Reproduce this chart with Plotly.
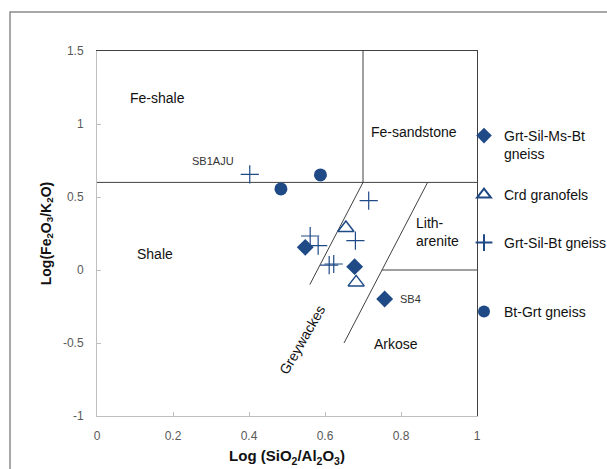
import plotly.graph_objects as go

# ---------------- data ----------------
ms_bt_x = [0.548, 0.678, 0.757]
ms_bt_y = [0.155, 0.023, -0.199]

crd_x = [0.655, 0.682]
crd_y = [0.288, -0.085]

sil_bt_x = [0.402, 0.715, 0.561, 0.680, 0.582, 0.611, 0.623]
sil_bt_y = [0.655, 0.475, 0.233, 0.201, 0.167, 0.034, 0.041]

bt_grt_x = [0.588, 0.484]
bt_grt_y = [0.651, 0.555]

series_names = ["Grt-Sil-Ms-Bt<br>gneiss", "Crd granofels", "Grt-Sil-Bt gneiss", "Bt-Grt gneiss"]

# field boundaries (Herron 1988) as segments
boundary_x = [[0.0, 1.0], [0.7, 0.7], [0.7, 0.56], [0.87, 0.65], [0.75, 1.0]]
boundary_y = [[0.6, 0.6], [0.6, 1.5], [0.6, -0.1], [0.6, -0.5], [0.0, 0.0]]

field_labels = ["Fe-shale", "Fe-sandstone", "Shale", "Lith-<br>arenite", "Arkose"]
field_x = [0.16, 0.833, 0.153, 0.896, 0.788]
field_y = [1.18, 0.945, 0.11, 0.26, -0.51]

sample_labels = ["SB1AJU", "SB4"]
sample_x = [0.306, 0.825]
sample_y = [0.745, -0.199]

x_ticks = [0, 0.2, 0.4, 0.6, 0.8, 1]
x_ticklabels = ["0", "0.2", "0.4", "0.6", "0.8", "1"]
y_ticks = [-1, -0.5, 0, 0.5, 1, 1.5]
y_ticklabels = ["-1", "-0.5", "0", "0.5", "1", "1.5"]

# ---------------- figure ----------------
NAVY = "#1F4A86"
FONT = "Liberation Sans"
fig = go.Figure()

for bx, by in zip(boundary_x, boundary_y):
    fig.add_trace(go.Scatter(x=bx, y=by, mode="lines", showlegend=False,
                             hoverinfo="skip", line=dict(color="#404040", width=1)))

fig.add_trace(go.Scatter(x=ms_bt_x, y=ms_bt_y, mode="markers", name=series_names[0],
                         marker=dict(symbol="diamond", size=13, color=NAVY), legend="legend"))
fig.add_trace(go.Scatter(x=crd_x, y=crd_y, mode="markers", name=series_names[1],
                         marker=dict(symbol="triangle-up-open", size=14, color=NAVY,
                                     line=dict(width=1.5, color=NAVY)), legend="legend2"))
fig.add_trace(go.Scatter(x=sil_bt_x, y=sil_bt_y, mode="markers", name=series_names[2],
                         marker=dict(symbol="cross-thin-open", size=13, color=NAVY,
                                     line=dict(width=1.2, color=NAVY)), legend="legend3"))
fig.add_trace(go.Scatter(x=bt_grt_x, y=bt_grt_y, mode="markers", name=series_names[3],
                         marker=dict(symbol="circle", size=13, color=NAVY), legend="legend4"))

# frame on top and right (dark), via overlay axes
fig.add_trace(go.Scatter(x=[None], y=[None], xaxis="x2", yaxis="y2", showlegend=False))

for t, x, y in zip(field_labels, field_x, field_y):
    fig.add_annotation(x=x, y=y, text=t, showarrow=False, align="left",
                       font=dict(family=FONT, size=14, color="#111111"))
for t, x, y in zip(sample_labels, sample_x, sample_y):
    fig.add_annotation(x=x, y=y, text=t, showarrow=False,
                       font=dict(family=FONT, size=11, color="#333333"))
fig.add_annotation(x=0.54, y=-0.48, text="Greywackes", showarrow=False, textangle=-60,
                   font=dict(family=FONT, size=14, color="#111111"))

# outer border
fig.add_shape(type="rect", xref="paper", yref="paper",
              x0=(10 - 97) / 380, x1=2.0, y0=-1.0, y1=(416 - 12) / 365,
              line=dict(color="#8c8c8c", width=1.5), fillcolor="rgba(0,0,0,0)", layer="below")

legend_common = dict(font=dict(family=FONT, size=14, color="#111111"), bgcolor="rgba(0,0,0,0)",
                     xanchor="left", yanchor="middle", itemsizing="constant", valign="top",
                     tracegroupgap=0)
lx = (464 - 97) / 380

def ly(py):
    return (416 - py) / 365

fig.update_layout(
    width=607, height=469,
    margin=dict(l=97, r=130, t=51, b=53, autoexpand=False),
    paper_bgcolor="white", plot_bgcolor="white",
    font=dict(family=FONT, size=12, color="#595959"),
    xaxis=dict(range=[0, 1], tickvals=x_ticks, ticktext=x_ticklabels, showgrid=False,
               zeroline=False, showline=True, linecolor="#bfbfbf", linewidth=1,
               ticks="inside", ticklen=4, tickcolor="#bfbfbf", ticklabelstandoff=9,
               tickfont=dict(family=FONT, size=12, color="#595959"),
               title=dict(text="Log (SiO<sub>2</sub>/Al<sub>2</sub>O<sub>3</sub>)", standoff=8,
                          font=dict(family=FONT, size=15, color="#111111", weight="bold"))),
    yaxis=dict(range=[-1, 1.5], tickvals=y_ticks, ticktext=y_ticklabels, showgrid=False,
               zeroline=False, showline=True, linecolor="#bfbfbf", linewidth=1,
               ticks="inside", ticklen=4, tickcolor="#bfbfbf", ticklabelstandoff=10,
               tickfont=dict(family=FONT, size=12, color="#595959"),
               title=dict(text="Log(Fe<sub>2</sub>O<sub>3</sub>/K<sub>2</sub>O)", standoff=8,
                          font=dict(family=FONT, size=14, color="#111111", weight="bold"))),
    xaxis2=dict(overlaying="x", side="top", range=[0, 1], showline=True, linecolor="#404040",
                linewidth=1, showticklabels=False, ticks="", showgrid=False, zeroline=False),
    yaxis2=dict(overlaying="y", side="right", range=[-1, 1.5], showline=True, linecolor="#404040",
                linewidth=1, showticklabels=False, ticks="", showgrid=False, zeroline=False),
    legend=dict(x=lx, y=ly(145), **legend_common),
    legend2=dict(x=lx, y=ly(195), **legend_common),
    legend3=dict(x=lx, y=ly(243), **legend_common),
    legend4=dict(x=lx, y=ly(312), **legend_common),
)

fig.write_html("out.html")
